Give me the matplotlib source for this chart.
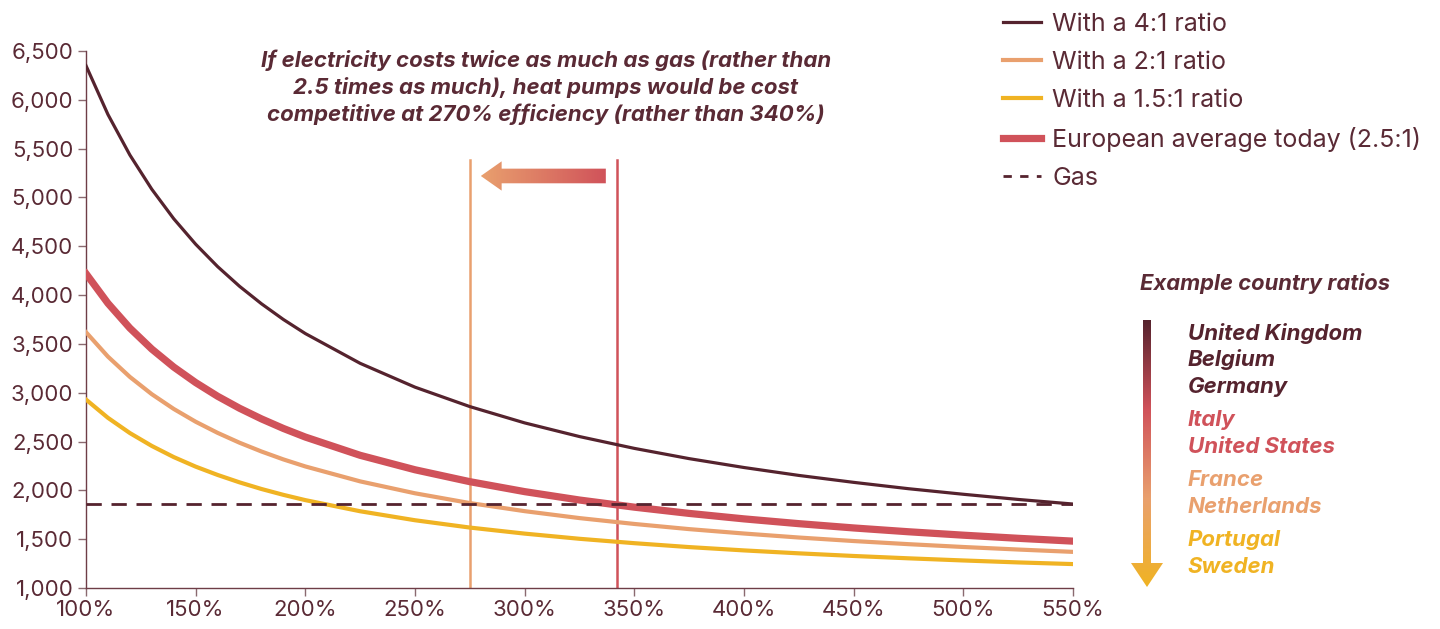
import numpy as np
import matplotlib.pyplot as plt
from matplotlib.patches import Polygon
from matplotlib.colors import LinearSegmentedColormap

plt.rcParams['font.family'] = ['Inter', 'DejaVu Sans']

# efficiency of the heat pump (%)
efficiency = [100, 110, 120, 130, 140, 150, 160, 170, 180, 190, 200, 225, 250,
              275, 300, 325, 350, 375, 400, 425, 450, 475, 500, 525, 550]

# running cost at different electricity:gas price ratios
ratio_4 = [6350, 5850, 5435, 5084, 4782, 4521, 4292, 4090, 3911, 3750, 3606, 3301,
           3057, 2858, 2691, 2551, 2430, 2325, 2234, 2153, 2082, 2017, 1960, 1907, 1860]
ratio_2 = [3620, 3370, 3162, 2985, 2834, 2703, 2589, 2488, 2398, 2317, 2245, 2092,
           1970, 1870, 1787, 1716, 1656, 1603, 1558, 1517, 1481, 1449, 1420, 1394, 1370]
ratio_15 = [2930, 2743, 2587, 2455, 2341, 2243, 2158, 2082, 2014, 1954, 1900, 1786,
            1694, 1619, 1557, 1504, 1459, 1419, 1385, 1355, 1328, 1304, 1282, 1262, 1245]
ratio_eu = [4220, 3916, 3662, 3447, 3263, 3104, 2964, 2841, 2732, 2634, 2546, 2359,
            2211, 2089, 1987, 1901, 1828, 1764, 1708, 1659, 1615, 1576, 1541, 1509, 1480]
gas_cost = 1860

breakeven_2 = 275
breakeven_eu = 342

countries = ['United Kingdom', 'Belgium', 'Germany', 'Italy', 'United States',
             'France', 'Netherlands', 'Portugal', 'Sweden']
country_group = [0, 0, 0, 1, 1, 2, 2, 3, 3]

DARK = '#55232e'
RED = '#d0525a'
ORANGE = '#e9a06e'
YELLOW = '#f0b323'
TEXT = '#5a2a35'
group_colors = [DARK, RED, ORANGE, YELLOW]

fig = plt.figure(figsize=(14.4, 6.29), dpi=100)
ax = fig.add_axes([86 / 1440, 1 - 588 / 629, (1073 - 86) / 1440, (588 - 51) / 629])

ax.plot(efficiency, ratio_4, color=DARK, lw=2.3, label='With a 4:1 ratio', zorder=4)
ax.plot(efficiency, ratio_2, color=ORANGE, lw=3, label='With a 2:1 ratio', zorder=3)
ax.plot(efficiency, ratio_15, color=YELLOW, lw=3, label='With a 1.5:1 ratio', zorder=3)
ax.plot(efficiency, ratio_eu, color=RED, lw=5.2, label='European average today (2.5:1)', zorder=3)
ax.plot([efficiency[0], efficiency[-1]], [gas_cost, gas_cost], color=DARK, lw=2,
        dashes=(5.5, 3.5), label='Gas', zorder=5)

# break-even markers
top_val = 5380
ax.plot([breakeven_2, breakeven_2], [1000, top_val], color=ORANGE, lw=1.8, zorder=2)
ax.plot([breakeven_eu, breakeven_eu], [1000, top_val], color=RED, lw=1.8, zorder=2)

# horizontal gradient arrow between the two markers
y0 = 5220
x_tail, x_head = breakeven_eu - 5, breakeven_2 + 5
head_len = 9.5
sh, hh = 75, 150
arrow_pts = [(x_tail, y0 - sh), (x_head + head_len, y0 - sh), (x_head + head_len, y0 - hh),
             (x_head, y0), (x_head + head_len, y0 + hh), (x_head + head_len, y0 + sh),
             (x_tail, y0 + sh)]
poly = Polygon(arrow_pts, closed=True, fc='none', ec='none', transform=ax.transData)
ax.add_patch(poly)
cmap_h = LinearSegmentedColormap.from_list('h', [ORANGE, RED])
grad = np.linspace(0, 1, 256).reshape(1, -1)
im = ax.imshow(grad, cmap=cmap_h, extent=[x_head, x_tail, y0 - hh, y0 + hh],
               aspect='auto', zorder=6, interpolation='bilinear')
im.set_clip_path(poly)

ax.set_xlim(100, 550)
ax.set_ylim(1000, 6500)
ax.set_xticks(range(100, 551, 50))
ax.set_xticklabels([f'{v}%' for v in range(100, 551, 50)])
ax.set_yticks(range(1000, 6501, 500))
ax.set_yticklabels([f'{v:,}' for v in range(1000, 6501, 500)])
for s in ['top', 'right']:
    ax.spines[s].set_visible(False)
for s in ['left', 'bottom']:
    ax.spines[s].set_color('#6e3d47')
    ax.spines[s].set_linewidth(1)
ax.tick_params(colors='#8a6a70', labelcolor=TEXT, labelsize=16, length=6, width=1)
ax.tick_params(axis='x', pad=3)
ax.tick_params(axis='y', pad=3)

ax.text(0.466, 0.932,
        'If electricity costs twice as much as gas (rather than\n'
        '2.5 times as much), heat pumps would be cost\n'
        'competitive at 270% efficiency (rather than 340%)',
        transform=ax.transAxes, ha='center', va='center', fontsize=16,
        fontweight='bold', style='italic', color=TEXT, linespacing=1.33)

handles, labels = ax.get_legend_handles_labels()
handles[-1].set_dashes((3, 3))
leg = fig.legend(handles, labels, loc='upper left', bbox_to_anchor=(985 / 1440, 1.007),
                 frameon=False, fontsize=18, handlelength=1.55, handletextpad=0.45,
                 labelspacing=0.6, borderaxespad=0.3)
for t in leg.get_texts():
    t.set_color(TEXT)
handles[-1].set_dashes((5.5, 3.5))

# country ratio side panel (pixel coordinates)
ov = fig.add_axes([0, 0, 1, 1], zorder=-1)
ov.set_xlim(0, 1440)
ov.set_ylim(629, 0)
ov.axis('off')
ov.text(1140, 283, 'Example country ratios', fontsize=15.8, fontweight='bold',
        style='italic', color=TEXT, va='center', ha='left')

y = 333
prev = country_group[0]
for name, g in zip(countries, country_group):
    if g != prev:
        y += 6
        prev = g
    ov.text(1188, y, name, fontsize=16, fontweight='bold', style='italic',
            color=group_colors[g], va='center', ha='left')
    y += 27

ax_x = 1147
vpts = [(ax_x - 4, 320), (ax_x + 4, 320), (ax_x + 4, 563), (ax_x + 16, 563),
        (ax_x, 587), (ax_x - 16, 563), (ax_x - 4, 563)]
vpoly = Polygon(vpts, closed=True, fc='none', ec='none')
ov.add_patch(vpoly)
cmap_v = LinearSegmentedColormap.from_list('v', [DARK, RED, ORANGE, YELLOW])
vgrad = np.linspace(0, 1, 256).reshape(-1, 1)
vim = ov.imshow(vgrad, cmap=cmap_v, extent=[ax_x - 16, ax_x + 16, 587, 320],
                aspect='auto', interpolation='bilinear')
vim.set_clip_path(vpoly)
ov.set_xlim(0, 1440)
ov.set_ylim(629, 0)

fig.savefig('out.png', dpi=100)
